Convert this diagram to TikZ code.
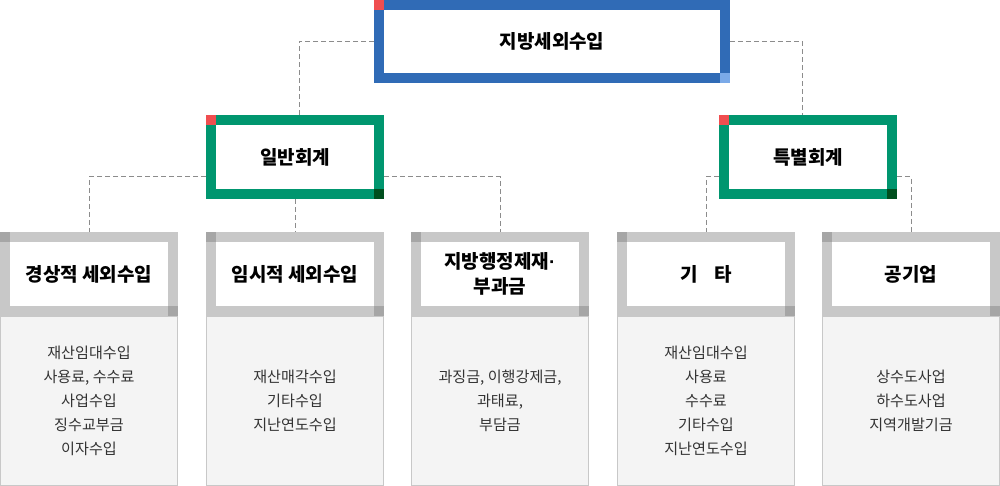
\documentclass[tikz,border=0pt]{standalone}
\usepackage{fontspec}
\setmainfont{Noto Sans CJK KR}
\newfontfamily\dotfont{Liberation Sans}
\definecolor{mainblue}{HTML}{306BB6}
\definecolor{accred}{HTML}{F04E50}
\definecolor{paleblue}{HTML}{7BAAE8}
\definecolor{acctgreen}{HTML}{00966F}
\definecolor{deepgreen}{HTML}{004F1E}
\definecolor{framegray}{HTML}{C8C8C8}
\definecolor{cornergray}{HTML}{A6A6A6}
\definecolor{panelgray}{HTML}{F4F4F4}
\definecolor{linkgray}{HTML}{8C8C8C}
\definecolor{listtext}{HTML}{333333}

\begin{document}
\begin{tikzpicture}[x=0.02cm, y=-0.02cm,
  frame/.style={rectangle, line width=0.2cm, fill=white, minimum width=3.36cm,
                minimum height=1.48cm, align=center, inner sep=0pt, text=black,
                font=\fontsize{10.8pt}{14.2pt}\selectfont\bfseries},
  topbox/.style={frame, draw=mainblue, minimum width=6.92cm, minimum height=1.46cm},
  acctbox/.style={frame, draw=acctgreen},
  itembox/.style={frame, draw=framegray},
  panel/.style={rectangle, draw=framegray, line width=0.02cm, fill=panelgray,
                minimum width=3.54cm, minimum height=3.38cm, align=center,
                inner sep=0pt, text=listtext,
                font=\fontsize{8.6pt}{13.7pt}\selectfont},
  link/.style={draw=linkgray, line width=0.02cm, dash pattern=on 0.1cm off 0.06cm}
]
\useasboundingbox (0,0) rectangle (1000,486);

% lists below the item boxes
\node[panel] (currentList)   at (89,401)  {재산임대수입\\사용료, 수수료\\사업수입\\징수교부금\\이자수입};
\node[panel] (temporaryList) at (295,401) {재산매각수입\\기타수입\\지난연도수입};
\node[panel] (penaltyList)   at (500,401) {과징금, 이행강제금,\\과태료,\\부담금};
\node[panel] (otherList)     at (706,401) {재산임대수입\\사용료\\수수료\\기타수입\\지난연도수입};
\node[panel] (publicList)    at (911,401) {상수도사업\\하수도사업\\지역개발기금};

\node[topbox]  (nontax)  at (552,41.5) {지방세외수입};
\node[acctbox] (general) at (295,157)  {일반회계};
\node[acctbox] (special) at (808,157)  {특별회계};

\node[itembox] (current)   at (89,274)  {경상적 세외수입};
\node[itembox] (temporary) at (295,274) {임시적 세외수입};
\node[itembox] (penalty)   at (500,274) {지방행정제재{\dotfont ·}\\부과금};
\node[itembox] (other)     at (706,274) {기\hspace{0.9em}타};
\node[itembox] (public)    at (911,274) {공기업};

% corner marks
\foreach \n/\ca/\cb in {nontax/accred/paleblue, general/accred/deepgreen,
    special/accred/deepgreen, current/cornergray/cornergray,
    temporary/cornergray/cornergray, penalty/cornergray/cornergray,
    other/cornergray/cornergray, public/cornergray/cornergray} {
  \fill[\ca] (\n.north west) rectangle ++(10,10);
  \fill[\cb] (\n.south east) rectangle ++(-10,-10);
}

% dashed links
\draw[link] (nontax.west) -| ([xshift=0.08cm]general.north);
\draw[link] (nontax.east) -| ([xshift=-0.12cm]special.north);
\draw[link] ([yshift=-0.4cm]general.west) -| (current.north);
\draw[link] (general.south) -- (temporary.north);
\draw[link] ([yshift=-0.4cm]general.east) -| (penalty.north);
\draw[link] ([yshift=-0.4cm]special.west) -| (other.north);
\draw[link] ([yshift=-0.4cm]special.east) -| (public.north);

\end{tikzpicture}
\end{document}
